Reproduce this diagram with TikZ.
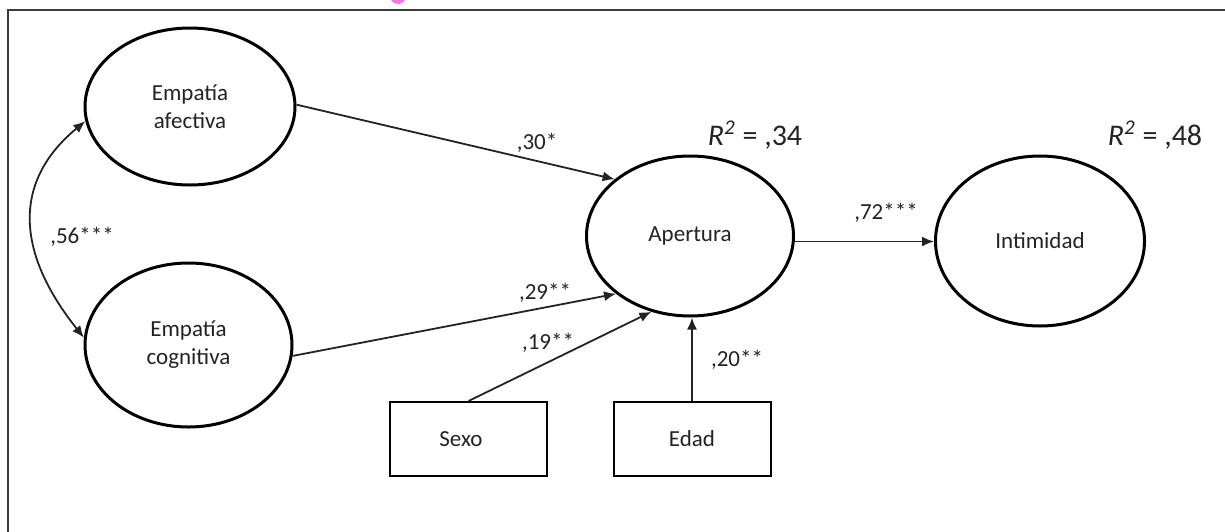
\documentclass[tikz,border=0pt]{standalone}
\usepackage{fontspec}
\setmainfont{Carlito}
\usetikzlibrary{arrows.meta,shapes.geometric}

\definecolor{inkgray}{RGB}{35,35,35}
\definecolor{framegray}{RGB}{60,60,60}
\definecolor{pinkmark}{RGB}{236,120,224}

\begin{document}
\begin{tikzpicture}[x=0.5pt,y=-0.5pt,
  latent/.style={draw, ellipse, line width=1.5pt, inner sep=0pt, align=center,
    text=inkgray, font=\fontsize{11.5}{14}\selectfont},
  observed/.style={draw, rectangle, line width=1pt, inner sep=0pt,
    minimum width=78.5pt, minimum height=37pt, text=inkgray,
    font=\fontsize{11.5}{14}\selectfont},
  coef/.style={inner sep=0pt, text=inkgray, font=\fontsize{11.5}{13}\selectfont},
  rsq/.style={inner sep=0pt, text=inkgray, font=\fontsize{15}{17}\selectfont},
  path/.style={-{Latex[length=6pt,width=5pt]}, line width=0.9pt, draw=inkgray},
  covar/.style={{Latex[length=6pt,width=5pt]}-{Latex[length=6pt,width=5pt]}, line width=0.9pt, draw=inkgray}]

\useasboundingbox (0,0) rectangle (1225,531);

% frame and marker
\begin{scope}
  \clip (0,0) rectangle (1225,531);
  \fill[pinkmark] (398,-4) circle (8);
  \draw[framegray, line width=1.2pt] (1230,10) -- (8,10) -- (8,540);
\end{scope}

% latent variables
\node[latent, minimum width=105pt, minimum height=78.5pt] (afe) at (190,106.5) {Empatía\\afectiva};
\node[latent, minimum width=103.5pt, minimum height=82pt] (cog) at (188.5,345) {Empatía\\cognitiva};
\node[latent, minimum width=103.5pt, minimum height=80pt] (ape) at (690,236) {Apertura};
\node[latent, minimum width=104.5pt, minimum height=85pt] (int) at (1040,241) {Intimidad};

% observed covariates
\node[observed] (sexo) at (468.5,439) {\hspace*{-7.5pt}Sexo};
\node[observed] (edad) at (692,439) {Edad};

% paths
\draw[path] (afe.1) -- (ape.143);
\draw[path] (cog.-6) -- (ape.218);
\draw[path] (sexo.north) -- (ape.243);
\draw[path] (edad.north) -- (edad.north |- ape.south);
\draw[path] (ape.-3) -- (int.west |- ape.-3);

% covariance between the two empathy factors
\draw[covar] (afe.188) .. controls (14,180) and (14,250) .. (cog.176);

% coefficients
\node[coef] (c30) at (537,143) {,30*};
\node[coef] (c29) at (545,293) {,29**};
\node[coef] (c19) at (548,343) {,19**};
\node[coef] (c20) at (737,360) {,20**};
\node[coef] (c72) at (886,213) {,72***};
\node[coef] (c56) at (82,237) {,56***};

% explained variance
\node[rsq] (r34) at (755,135) {\textit{R}\textsuperscript{\textit{2}} = ,34};
\node[rsq] (r48) at (1155,135) {\textit{R}\textsuperscript{\textit{2}} = ,48};

\end{tikzpicture}
\end{document}
